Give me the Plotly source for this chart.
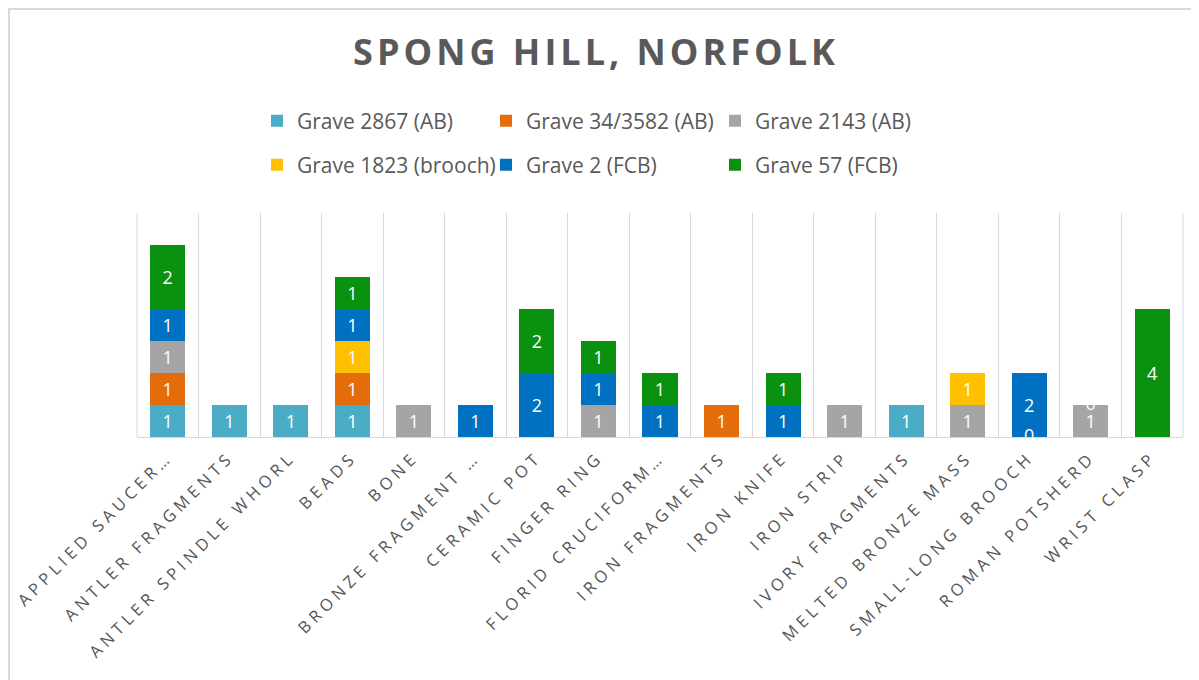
import plotly.graph_objects as go

categories = ["APPLIED SAUCER…", "ANTLER FRAGMENTS", "ANTLER SPINDLE WHORL", "BEADS", "BONE",
              "BRONZE FRAGMENT …", "CERAMIC POT", "FINGER RING", "FLORID CRUCIFORM…",
              "IRON FRAGMENTS", "IRON KNIFE", "IRON STRIP", "IVORY FRAGMENTS",
              "MELTED BRONZE MASS", "SMALL-LONG BROOCH", "ROMAN POTSHERD", "WRIST CLASP"]

series_names = ["Grave 2867 (AB)", "Grave 34/3582 (AB)", "Grave 2143 (AB)",
                "Grave 1823 (brooch)", "Grave 2 (FCB)", "Grave 57 (FCB)"]

N = None
grave_2867 = [1, 1, 1, 1, N, N, N, N, N, N, N, N, 1, N, N, N, N]
grave_34_3582 = [1, N, N, 1, N, N, N, N, N, 1, N, N, N, N, N, N, N]
grave_2143 = [1, N, N, N, 1, N, N, 1, N, N, N, 1, N, 1, N, 1, N]
grave_1823 = [N, N, N, 1, N, N, N, N, N, N, N, N, N, 1, 0, 0, N]
grave_2 = [1, N, N, 1, N, 1, 2, 1, 1, N, 1, N, N, N, 2, N, N]
grave_57 = [2, N, N, 1, N, N, 2, 1, 1, N, 1, N, N, N, N, N, 4]

colors = ["#4BACC6", "#E46C0A", "#A5A5A5", "#FFC000", "#0070C0", "#0B9110"]

all_series = [grave_2867, grave_34_3582, grave_2143, grave_1823, grave_2, grave_57]

fig = go.Figure()
for i, (name, vals, col) in enumerate(zip(series_names, all_series, colors)):
    fig.add_trace(go.Bar(
        x=categories, y=[v if v else None for v in vals], name=name,
        marker=dict(color=col, line=dict(width=0)),
        text=[str(v) if v else "" for v in vals],
        textposition="inside", insidetextanchor="middle", textangle=0,
        constraintext="none",
        textfont=dict(color="white", size=18, family="Open Sans"),
        legend="legend" if i < 3 else "legend2",
    ))

# zero-value data labels (Excel draws them at the stack position)
zx, zy = [], []
cum = [0] * len(categories)
for vals in all_series:
    for j, v in enumerate(vals):
        if v == 0:
            zx.append(categories[j])
            zy.append(cum[j])
        if v:
            cum[j] += v
fig.add_trace(go.Scatter(x=zx, y=zy, mode="text", text=["0"] * len(zx),
                         textfont=dict(color="white", size=18, family="Open Sans"),
                         showlegend=False, hoverinfo="skip", cliponaxis=False))

# the page body adds an 8px offset, so the figure is sized to the visible area
W, H = 1191, 672
L, R, T, B = 129, 16, 205, 243
pw, ph = W - L - R, H - T - B

def px(x):
    return (x - L) / pw

def py(y):
    return (H - B - y) / ph

legend_font = dict(size=21, color="#595959", family="Open Sans")
legend_common = dict(orientation="h", xanchor="left", yanchor="middle",
                     font=legend_font, entrywidth=184, entrywidthmode="pixels",
                     itemclick=False, traceorder="normal", bgcolor="rgba(0,0,0,0)")
fig.update_layout(
    width=W, height=H,
    margin=dict(l=L, r=R, t=T, b=B, autoexpand=False),
    paper_bgcolor="white", plot_bgcolor="white",
    barmode="stack", bargap=0.43,
    title=dict(text="<b>SPONG HILL, NORFOLK</b>", x=588 / W, xref="container", xanchor="center",
               y=1 - 44 / H, yref="container", yanchor="middle",
               font=dict(size=36, color="#595959", family="Open Sans")),
    legend=dict(x=px(249), y=py(113), **legend_common),
    legend2=dict(x=px(249), y=py(157), **legend_common),
    xaxis=dict(showgrid=True, gridcolor="#D9D9D9", gridwidth=1, tickson="boundaries",
               showline=True, linecolor="#D9D9D9", linewidth=1, ticks="",
               tickangle=-45, automargin=False, ticklabelstandoff=3,
               tickfont=dict(size=16.5, color="#555555", family="Open Sans"),
               fixedrange=True),
    yaxis=dict(range=[0, 7], showgrid=False, zeroline=False, showticklabels=False,
               showline=False, fixedrange=True, automargin=False),
    shapes=[
        dict(type="rect", xref="paper", yref="paper",
             x0=px(1), x1=px(W + 20), y0=py(H + 20), y1=py(1),
             line=dict(color="#D9D9D9", width=2), fillcolor="rgba(0,0,0,0)", layer="below"),
        dict(type="line", xref="paper", yref="paper", x0=0, x1=0, y0=0, y1=1,
             line=dict(color="#D9D9D9", width=1), layer="below"),
        dict(type="line", xref="paper", yref="paper", x0=1, x1=1, y0=0, y1=1,
             line=dict(color="#D9D9D9", width=1), layer="below"),
    ],
    showlegend=True,
)

post = """
var gd = document.getElementById('{plot_id}');
function sp(){
  gd.querySelectorAll('.xtick text').forEach(function(t){ t.style.letterSpacing = '4.5px'; });
  var tt = gd.querySelector('.gtitle');
  if (tt) { tt.style.letterSpacing = '4px'; }
}
sp();
if (gd.on) { gd.on('plotly_afterplot', sp); }
"""

fig.write_html("out.html", post_script=post, config={"displayModeBar": False})
